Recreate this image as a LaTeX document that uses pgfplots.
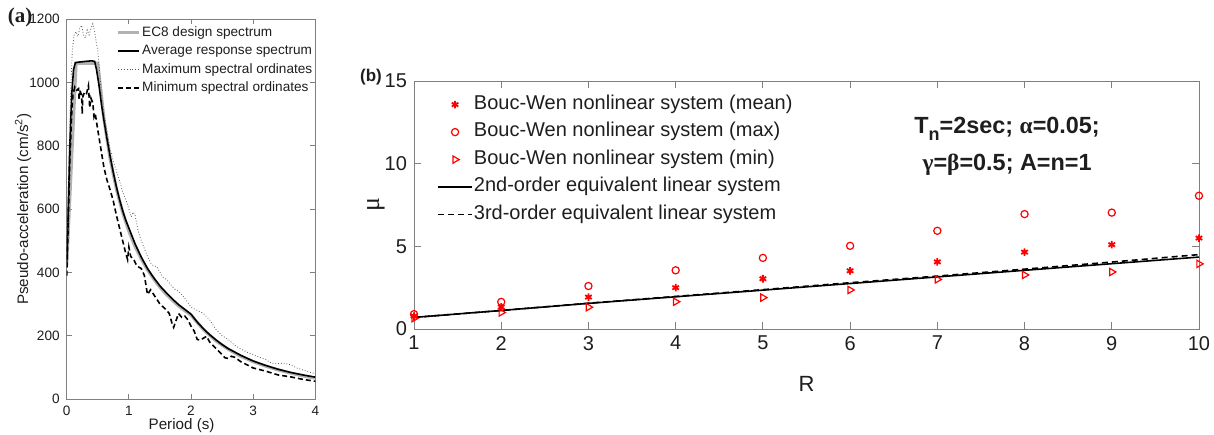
\documentclass[border=0pt]{standalone}
\usepackage{fontspec}
\setmainfont{Liberation Sans}
\newfontfamily\timesfont{Liberation Serif}
\usepackage{pgfplots}
\pgfplotsset{compat=1.18}
\definecolor{axgray}{RGB}{128,128,128}
\definecolor{txt}{RGB}{30,30,30}
\definecolor{ecgray}{RGB}{178,178,178}
\definecolor{maxgray}{RGB}{90,90,90}

\pgfplotsset{
  matlab/.style={
    scale only axis,
    axis line style={axgray},
    tick style={axgray, line width=0.4pt},
    tick align=inside,
    /pgf/number format/assume math mode=true,
    /pgf/number format/1000 sep={},
    every tick label/.append style={txt},
    label style={txt},
  },
}

\begin{document}
\begin{tikzpicture}
\path[use as bounding box] (0,0) rectangle (607pt,217pt);

% ---------------- (a) response spectra ----------------
\begin{axis}[
    matlab,
    at={(33.35pt,17.5pt)}, anchor=south west,
    width=124.3pt, height=190pt,
    xmin=0, xmax=4, ymin=0, ymax=1200,
    xtick={0,1,2,3,4}, ytick={0,200,400,600,800,1000,1200},
    major tick length=2.5pt,
    tick label style={font=\fontsize{6.8}{7}\selectfont},
    xlabel={Period (s)},
    ylabel={Pseudo-acceleration (cm/s\textsuperscript{2})},
    label style={font=\fontsize{7.6}{9}\selectfont},
    xlabel style={at={(axis description cs:0.5,0)}, anchor=center, yshift=-13.2pt, xshift=-4.7pt},
    ylabel style={at={(axis description cs:0,0.5)}, anchor=center, yshift=21.8pt},
    legend style={draw=none, fill=none, at={(0.2,0.985)}, anchor=north west,
      font=\fontsize{6.8}{8}\selectfont, inner sep=0pt, row sep=1.6pt,
      nodes={inner sep=0.6pt, text height=5pt, text depth=1.4pt, text=txt}},
    legend cell align=left,
    legend image code/.code={\draw[#1] (0pt,0pt) -- (10.5pt,0pt);},
  ]
\addplot[ecgray, line width=1.6pt] coordinates {
 (0,424) (0.15,1060) (0.5,1060) (0.6,883) (0.7,757) (0.8,663) (0.9,589)
 (1.0,530) (1.1,482) (1.2,442) (1.3,408) (1.4,379) (1.5,353) (1.6,331)
 (1.7,312) (1.8,294) (1.9,279) (2.0,265) (2.2,219) (2.4,184) (2.6,157)
 (2.8,135) (3.0,118) (3.2,104) (3.4,92) (3.6,82) (3.8,73) (4.0,66)};
\addplot[black, line width=0.8pt] coordinates {
 (0,430) (0.02,560) (0.05,800) (0.08,960) (0.11,1040) (0.14,1062) (0.2,1064)
 (0.3,1066) (0.4,1068) (0.45,1066) (0.48,1040) (0.52,990) (0.56,930) (0.6,880)
 (0.65,820) (0.7,765) (0.75,715) (0.8,670) (0.85,630) (0.9,595) (0.95,565)
 (1.0,540) (1.05,515) (1.1,490) (1.2,448) (1.3,412) (1.4,383) (1.5,357)
 (1.6,336) (1.7,316) (1.8,298) (1.9,283) (2.0,268) (2.1,243) (2.2,222)
 (2.3,203) (2.4,187) (2.5,172) (2.6,159) (2.8,138) (3.0,120) (3.2,106)
 (3.4,94) (3.6,84) (3.8,76) (4.0,69)};
\addplot[maxgray, line width=0.4pt, densely dotted] coordinates {
 (0,450) (0.03,700) (0.06,950) (0.09,1100) (0.12,1150) (0.15,1160) (0.18,1145)
 (0.21,1170) (0.24,1180) (0.27,1150) (0.3,1140) (0.33,1165) (0.36,1150)
 (0.39,1170) (0.42,1185) (0.45,1160) (0.48,1120) (0.5,1100) (0.53,1030)
 (0.56,960) (0.6,900) (0.65,840) (0.7,790) (0.75,750) (0.8,720) (0.85,690)
 (0.9,655) (0.95,630) (1.0,600) (1.04,575) (1.07,590) (1.1,580) (1.15,530)
 (1.2,500) (1.25,475) (1.3,450) (1.35,430) (1.4,420) (1.45,418) (1.5,400)
 (1.55,385) (1.6,378) (1.7,355) (1.75,345) (1.8,340) (1.85,330) (1.9,318)
 (2.0,290) (2.1,280) (2.2,270) (2.3,250) (2.4,220) (2.5,200) (2.6,188)
 (2.7,170) (2.8,158) (2.9,148) (3.0,140) (3.1,132) (3.2,125) (3.3,112)
 (3.4,112) (3.5,113) (3.6,108) (3.7,98) (3.8,92) (3.9,85) (4.0,80)};
\addplot[black, line width=0.8pt, dash pattern=on 2.5pt off 1.5pt] coordinates {
 (0,390) (0.02,520) (0.05,750) (0.08,900) (0.1,960) (0.13,985) (0.16,975)
 (0.19,980) (0.2,945) (0.21,975) (0.24,960) (0.25,900) (0.26,955) (0.29,970)
 (0.32,965) (0.35,990) (0.37,920) (0.39,950) (0.42,935) (0.44,890) (0.46,900)
 (0.5,850) (0.55,790) (0.6,730) (0.65,690) (0.7,660) (0.75,625) (0.8,580)
 (0.85,540) (0.9,500) (0.95,460) (0.98,440) (1.0,480) (1.03,450) (1.08,440)
 (1.13,420) (1.2,412) (1.25,390) (1.3,330) (1.35,345) (1.4,330) (1.5,300)
 (1.6,282) (1.65,270) (1.7,235) (1.72,226) (1.8,270) (1.85,258) (1.9,262)
 (1.95,250) (2.0,230) (2.05,215) (2.1,188) (2.15,186) (2.25,198) (2.3,180)
 (2.4,160) (2.5,140) (2.55,130) (2.6,128) (2.65,135) (2.7,132) (2.8,118)
 (2.9,108) (3.0,98) (3.2,88) (3.4,76) (3.6,70) (3.8,62) (4.0,56)};
\legend{EC8 design spectrum, Average response spectrum,
        Maximum spectral ordinates, Minimum spectral ordinates}
\end{axis}

% ---------------- (b) ductility vs R ----------------
\begin{axis}[
    matlab,
    at={(207pt,52.5pt)}, anchor=south west,
    width=392.5pt, height=124pt,
    xmin=1, xmax=10, ymin=0, ymax=15,
    xtick={1,...,10}, ytick={0,5,10,15},
    major tick length=3.5pt,
    clip=false,
    tick label style={font=\fontsize{10}{12}\selectfont},
    xlabel={R}, ylabel={\timesfont μ},
    label style={font=\fontsize{11}{13}\selectfont},
    xlabel style={at={(axis description cs:0.5,0)}, anchor=center, yshift=-27.5pt},
    ylabel style={at={(axis description cs:0,0.5)}, anchor=center, yshift=19pt,
      font=\fontsize{13}{14}\selectfont},
    legend style={draw=none, fill=none, at={(0.029,0.95)}, anchor=north west,
      font=\fontsize{10}{12}\selectfont, inner sep=0pt, row sep=2.95pt,
      nodes={inner sep=0.5pt, text height=7.3pt, text depth=2.5pt, text=txt}},
    legend cell align=left,
  ]
\addplot[only marks, red, mark=asterisk, mark size=1.9pt, line width=0.9pt] coordinates {
 (1,0.78) (2,1.33) (3,1.93) (4,2.5) (5,3.04) (6,3.52) (7,4.06) (8,4.65) (9,5.1) (10,5.5)};
\addplot[only marks, red, mark=o, mark size=1.8pt, line width=0.6pt] coordinates {
 (1,0.9) (2,1.64) (3,2.6) (4,3.55) (5,4.3) (6,5.03) (7,5.94) (8,6.95) (9,7.04) (10,8.06)};
\addplot[only marks, red, mark=triangle, mark size=2.1pt, line width=0.6pt, mark options={rotate=-90}] coordinates {
 (1,0.65) (2,1.0) (3,1.32) (4,1.65) (5,1.9) (6,2.36) (7,3.0) (8,3.27) (9,3.45) (10,3.94)};
\addplot[black, line width=0.8pt] coordinates {
 (1,0.7) (2,1.12) (3,1.55) (4,1.95) (5,2.35) (6,2.75) (7,3.15) (8,3.55) (9,3.95) (10,4.35)};
\addplot[black, line width=0.8pt, dash pattern=on 3pt off 2pt] coordinates {
 (1,0.7) (2,1.12) (3,1.56) (4,1.97) (5,2.38) (6,2.8) (7,3.2) (8,3.62) (9,4.05) (10,4.5)};
\legend{Bouc-Wen nonlinear system (mean), Bouc-Wen nonlinear system (max),
        Bouc-Wen nonlinear system (min), 2nd-order equivalent linear system,
        3rd-order equivalent linear system}
\node[align=center, font=\bfseries\fontsize{11.7}{18.5}\selectfont, text=txt]
  at (axis cs:7.8,11.05)
  {T\raisebox{-0.55ex}{\fontsize{9}{10}\selectfont n}=2sec; {\timesfont α}=0.05;\\
   {\timesfont γ}={\timesfont β}=0.5; A=n=1};
\end{axis}

\node[font=\timesfont\bfseries\fontsize{10.5}{11}\selectfont, text=txt] at (10pt,208.5pt) {(a)};
\node[font=\bfseries\fontsize{8.5}{10}\selectfont, text=txt] at (185.5pt,178.5pt) {(b)};
\end{tikzpicture}
\end{document}
